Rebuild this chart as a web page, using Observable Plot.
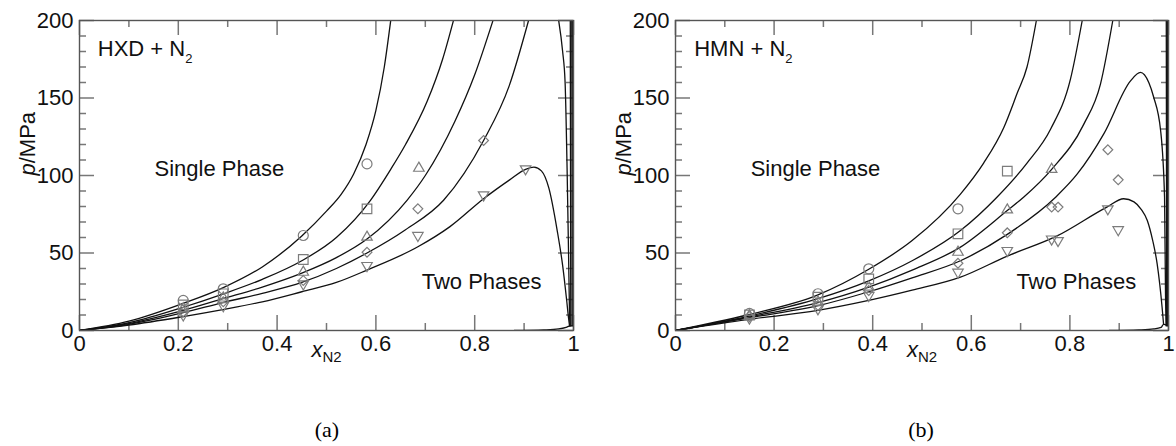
<!DOCTYPE html>
<html><head><meta charset="utf-8">
<script src="https://cdn.jsdelivr.net/npm/d3@7"></script>
<script src="https://cdn.jsdelivr.net/npm/@observablehq/plot@0.6"></script>
<style>
body{margin:0;background:#fff;}
#wrap{position:relative;width:1176px;height:446px;overflow:hidden;background:#fff;}
.panel{position:absolute;top:0;width:590px;height:370px;}
.panel svg{max-width:none !important;display:block;}
.cap{position:absolute;top:416px;width:60px;margin-left:-30px;text-align:center;font-family:"Liberation Serif","Times New Roman",serif;font-size:22px;line-height:28px;color:#000;}
</style></head><body>
<div id="wrap"><div id="pa" class="panel" style="left:0"></div><div id="pb" class="panel" style="left:596px"></div></div>
<script>
// ---------- axis ticks ----------
const xMajor = [0, 0.2, 0.4, 0.6, 0.8, 1];
const xMinor = [0.1, 0.3, 0.5, 0.7, 0.9];
const yMajor = [0, 50, 100, 150, 200];
const yMinor = [10, 20, 30, 40, 60, 70, 80, 90, 110, 120, 130, 140, 160, 170, 180, 190];
const xTickLabels = ["0", "0.2", "0.4", "0.6", "0.8", "1"];
const yTickLabels = ["0", "50", "100", "150", "200"];
const xLabel = "*x*_N2";
const yLabel = "*p*/MPa";
const captions = ["(a)", "(b)"];

// ---------- panel (a): HXD + N2 ----------
const hxdTitle = {text: "HXD + N_2", x: 0.037, y: 181.5};
const hxdRegions = [{text: "Single Phase", x: 0.283, y: 104}, {text: "Two Phases", x: 0.814, y: 31}];
const hxdCurve1 = [[0,0],[0.1,6],[0.21,17.5],[0.29,27.5],[0.37,41],[0.45,61],[0.5,77],[0.53,88],[0.555,101],[0.58,120],[0.6,142],[0.617,170],[0.63,200]];
const hxdCurve2 = [[0,0],[0.1,5],[0.21,15],[0.29,23.5],[0.37,33],[0.45,45],[0.52,60],[0.589,84],[0.63,104],[0.66,120],[0.704,148],[0.735,175],[0.757,200]];
const hxdCurve3 = [[0,0],[0.1,4.5],[0.21,13],[0.29,20.5],[0.37,28],[0.45,37],[0.52,47],[0.582,59],[0.663,84],[0.7,100],[0.76,135],[0.8,165],[0.837,200]];
const hxdCurve4 = [[0,0],[0.1,4],[0.21,11.5],[0.29,18],[0.37,24],[0.45,31],[0.52,40],[0.582,50],[0.66,65],[0.737,84],[0.818,122.6],[0.87,158],[0.909,200]];
const hxdCurve5 = [[0,0],[0.1,3.5],[0.21,9],[0.29,13.5],[0.37,18.5],[0.45,25],[0.52,31],[0.582,39],[0.685,54],[0.75,67],[0.818,85],[0.87,97],[0.903,104],[0.92,105.4],[0.935,103],[0.95,92],[0.967,64.5],[0.978,42],[0.986,20],[0.99,8],[0.992,3]];
const hxdDew4 = [[0.97,200],[0.978,180],[0.983,160],[0.987,105],[0.99,50],[0.992,10],[0.993,3]];
const hxdDew3 = [[0.9935,200],[0.994,100],[0.9945,3]];
const hxdDew2 = [[0.9965,200],[0.997,100],[0.9972,3]];
const hxdDew1 = [[0.9985,200],[0.999,100],[0.9992,3]];
const hxdDewLow = [[0.88,0],[0.94,0.4],[0.97,1],[0.985,2],[0.993,3],[0.999,3.2]];
const hxdCircles = [[0.21,19.4],[0.291,26.9],[0.453,61.3],[0.582,107.5]];
const hxdSquares = [[0.21,16.5],[0.291,23.7],[0.453,45.8],[0.582,78.5]];
const hxdTriUp = [[0.21,14],[0.291,21],[0.453,37.6],[0.582,60.2],[0.687,104.7]];
const hxdDiamonds = [[0.21,12],[0.291,18.5],[0.453,32.3],[0.582,50.5],[0.685,78.5],[0.818,122.6]];
const hxdTriDown = [[0.21,10],[0.291,16],[0.453,30],[0.582,41.9],[0.685,61.3],[0.818,87.5],[0.903,104.3]];

// ---------- panel (b): HMN + N2 ----------
const hmnTitle = {text: "HMN + N_2", x: 0.038, y: 181.5};
const hmnRegions = [{text: "Single Phase", x: 0.284, y: 104}, {text: "Two Phases", x: 0.813, y: 31}];
const hmnCurve1 = [[0,0],[0.145,10],[0.289,23],[0.392,39.5],[0.48,58],[0.578,88],[0.625,108],[0.666,131],[0.693,153],[0.713,170],[0.732,200]];
const hmnCurve2 = [[0,0],[0.145,9],[0.289,20.5],[0.392,32],[0.48,45],[0.578,64.5],[0.652,86],[0.713,108],[0.761,130],[0.801,162],[0.825,200]];
const hmnCurve3 = [[0,0],[0.145,8.5],[0.289,18],[0.392,28],[0.48,39],[0.578,53.8],[0.673,77.4],[0.706,86],[0.763,104],[0.828,133],[0.862,159],[0.887,200]];
const hmnCurve4 = [[0,0],[0.145,8],[0.289,16],[0.392,25],[0.48,34],[0.578,45],[0.673,62],[0.771,86],[0.815,101],[0.869,127],[0.923,161],[0.943,166.5],[0.96,160],[0.97,150.5],[0.984,129],[0.992,86],[0.994,21.5],[0.995,3]];
const hmnCurve5 = [[0,0],[0.145,7],[0.289,13],[0.392,19.4],[0.48,26],[0.578,34.4],[0.673,48],[0.774,61],[0.875,79.6],[0.909,85],[0.93,83],[0.945,78],[0.957,71],[0.968,58],[0.977,43],[0.987,15],[0.99,4]];
const hmnDew3 = [[0.9955,200],[0.996,100],[0.9962,3]];
const hmnDew2 = [[0.9975,200],[0.998,100],[0.9982,3]];
const hmnDew1 = [[0.999,200],[0.9993,100],[0.9995,3]];
const hmnDewLow = [[0.88,0],[0.94,0.4],[0.97,1],[0.985,2],[0.99,4],[0.999,3.2]];
const hmnCircles = [[0.15,11],[0.289,23.7],[0.392,39.8],[0.573,78.5]];
const hmnSquares = [[0.15,10],[0.289,21.5],[0.392,33.3],[0.573,62.4],[0.673,102.8]];
const hmnTriUp = [[0.15,9.5],[0.289,18.3],[0.392,28],[0.573,50.5],[0.673,77.8],[0.763,104]];
const hmnDiamonds = [[0.15,9],[0.289,16.1],[0.392,25.8],[0.573,43.4],[0.673,63],[0.763,79.6],[0.776,79.6],[0.877,116.6],[0.898,97.2]];
const hmnTriDown = [[0.15,8],[0.289,14],[0.392,22.6],[0.573,37.6],[0.673,51.6],[0.763,59],[0.776,58],[0.877,78.5],[0.898,65]];

// ---------- drawing ----------
const triDown = {
  draw(context, size) {
    const y = Math.sqrt(size / (Math.sqrt(3) * 3));
    context.moveTo(0, 2 * y);
    context.lineTo(-Math.sqrt(3) * y, -y);
    context.lineTo(Math.sqrt(3) * y, -y);
    context.closePath();
  }
};

const MARK = "#7c7c7c";
const TICK = "#777";
const W = 590, H = 370, ML = 79, MT = 20, MB = 40;

function panel(cfg) {
  const fw = W - ML - cfg.marginRight;   // frame width (px)
  const fh = H - MT - MB;                // frame height (px)
  const rows = [];
  cfg.curves.forEach((c, k) => c.forEach(([x, y]) => rows.push({x, y, k})));
  const sym = (data, symbol, r) => Plot.dot(data, {x: d => d[0], y: d => d[1], symbol, r, fill: "none", stroke: MARK, strokeWidth: 1.2});
  // inward ticks on all four sides: full-frame rules shortened by insets
  const tickSt = {stroke: TICK, strokeWidth: 1.5};
  const ticksX = (vals, len) => [
    Plot.ruleX(vals, {x: d => d, insetTop: fh - len, ...tickSt}),
    Plot.ruleX(vals, {x: d => d, insetBottom: fh - len, ...tickSt})
  ];
  const ticksY = (vals, len) => [
    Plot.ruleY(vals, {y: d => d, insetRight: fw - len, ...tickSt}),
    Plot.ruleY(vals, {y: d => d, insetLeft: fw - len, ...tickSt})
  ];
  return Plot.plot({
    width: W, height: H,
    marginLeft: ML, marginRight: cfg.marginRight, marginTop: MT, marginBottom: MB,
    style: {fontFamily: "'Liberation Sans', Arial, sans-serif", fontSize: "22px", color: "#111", background: "transparent", overflow: "visible"},
    x: {domain: [0, 1]},
    y: {domain: [0, 200]},
    marks: [
      ...ticksX(xMajor, 15), ...ticksX(xMinor, 7),
      ...ticksY(yMajor, 15), ...ticksY(yMinor, 7),
      Plot.line(rows, {x: "x", y: "y", z: "k", curve: "monotone-x", stroke: "#111", strokeWidth: 1.3, clip: true}),
      sym(cfg.circles, "circle", 5),
      sym(cfg.squares, "square", 5.4),
      sym(cfg.triUp, "triangle", 3.9),
      sym(cfg.diamonds, "diamond2", 4.4),
      sym(cfg.triDown, triDown, 3.9),
      Plot.frame({stroke: "#555", strokeWidth: 1.4}),
      Plot.axisX(xMajor, {anchor: "bottom", tickSize: 0, tickPadding: 5, label: null, tickFormat: d => xTickLabels[xMajor.indexOf(d)], fill: "#111"}),
      Plot.axisY(yMajor, {anchor: "left", tickSize: 0, tickPadding: 6, label: null, tickFormat: d => yTickLabels[yMajor.indexOf(d)], fill: "#111"}),
      Plot.text([cfg.title], {x: "x", y: "y", text: "text", textAnchor: "start", fontSize: 22, fill: "#111"}),
      Plot.text(cfg.regions, {x: "x", y: "y", text: "text", textAnchor: "middle", fontSize: 22, fill: "#111"}),
      Plot.text([yLabel], {frameAnchor: "left", rotate: -90, dx: -52, fontSize: 22, fill: "#111"}),
      Plot.text([xLabel], {frameAnchor: "bottom", dy: 26, fontSize: 22, fill: "#111"})
    ]
  });
}

// turn *italic* and _sub markup into tspans
function richify(svg) {
  d3.select(svg).selectAll("text").each(function () {
    const t = this.textContent;
    if (!/[*_]/.test(t)) return;
    const isTitle = t.indexOf(" + ") >= 0;
    const subSize = isTitle ? 13 : 15;
    const subShift = isTitle ? 7 : 5;
    const parts = t.split(/(\*[^*]+\*|_[A-Za-z0-9]+)/).filter(s => s.length);
    const el = d3.select(this);
    el.text(null);
    let shifted = false;
    parts.forEach(s => {
      const ts = el.append("tspan");
      if (s[0] === "*") {
        ts.text(s.slice(1, -1)).attr("font-style", "italic");
        if (shifted) { ts.attr("dy", -subShift); shifted = false; }
      } else if (s[0] === "_") {
        ts.text(s.slice(1)).attr("font-size", subSize).attr("dy", subShift);
        shifted = true;
      } else {
        ts.text(s);
        if (shifted) { ts.attr("dy", -subShift); shifted = false; }
      }
    });
  });
}

const A = panel({
  marginRight: 17, title: hxdTitle, regions: hxdRegions,
  curves: [hxdCurve1, hxdCurve2, hxdCurve3, hxdCurve4, hxdCurve5, hxdDew4, hxdDew3, hxdDew2, hxdDew1, hxdDewLow],
  circles: hxdCircles, squares: hxdSquares, triUp: hxdTriUp, diamonds: hxdDiamonds, triDown: hxdTriDown
});
const B = panel({
  marginRight: 18, title: hmnTitle, regions: hmnRegions,
  curves: [hmnCurve1, hmnCurve2, hmnCurve3, hmnCurve4, hmnCurve5, hmnDew3, hmnDew2, hmnDew1, hmnDewLow],
  circles: hmnCircles, squares: hmnSquares, triUp: hmnTriUp, diamonds: hmnDiamonds, triDown: hmnTriDown
});
richify(A); richify(B);
document.getElementById("pa").appendChild(A);
document.getElementById("pb").appendChild(B);

const capX = [327, 921];
captions.forEach((c, i) => {
  const d = document.createElement("div");
  d.className = "cap";
  d.style.left = capX[i] + "px";
  d.textContent = c;
  document.getElementById("wrap").appendChild(d);
});
</script>
</body></html>
